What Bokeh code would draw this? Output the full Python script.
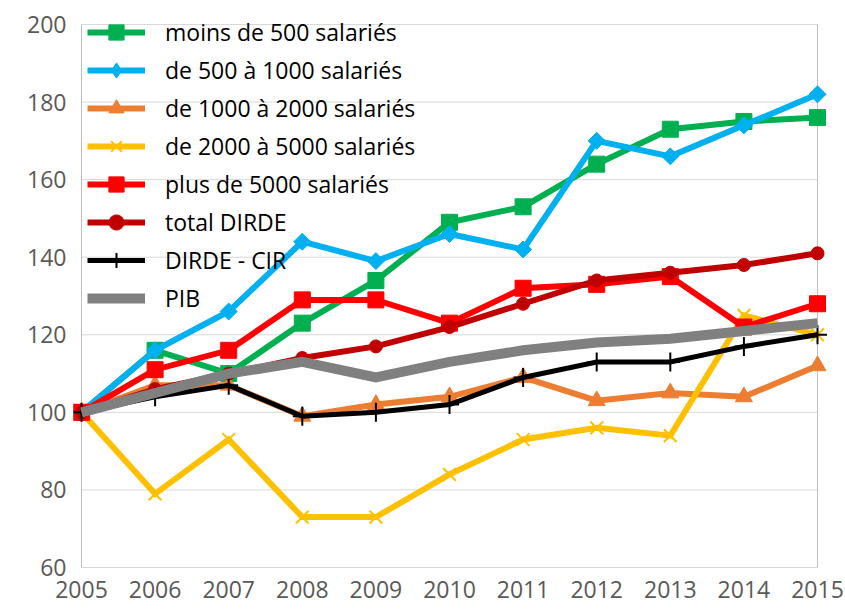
import math
from bokeh.plotting import figure
from bokeh.models import Range1d, Legend, LegendItem, FixedTicker
from bokeh.embed import file_html
from bokeh.resources import INLINE

years = [2005, 2006, 2007, 2008, 2009, 2010, 2011, 2012, 2013, 2014, 2015]
moins_500 = [100, 116, 110, 123, 134, 149, 153, 164, 173, 175, 176]
de_500_1000 = [100, 116, 126, 144, 139, 146, 142, 170, 166, 174, 182]
de_1000_2000 = [100, 107, 107, 99, 102, 104, 109, 103, 105, 104, 112]
de_2000_5000 = [100, 79, 93, 73, 73, 84, 93, 96, 94, 125, 120]
plus_5000 = [100, 111, 116, 129, 129, 123, 132, 133, 135, 122, 128]
total_dirde = [100, 106, 110, 114, 117, 122, 128, 134, 136, 138, 141]
dirde_cir = [100, 104, 107, 99, 100, 102, 109, 113, 113, 117, 120]
pib = [100, 105, 110, 113, 109, 113, 116, 118, 119, 121, 123]

y_ticks = [60, 80, 100, 120, 140, 160, 180, 200]

FONT = "Open Sans"
TXT = "#595959"

W, H = 845, 610
# canvas frame (a little larger than the Excel plot area so edge markers are not clipped)
F_LEFT, F_RIGHT, F_TOP, F_BOTTOM = 73, 828, 10, 567
# where the first/last year and the top tick must fall
PX_X0, PX_X1, PX_YTOP = 81, 817, 24

xs = (years[-1] - years[0]) / (PX_X1 - PX_X0)
x_start = years[0] - (PX_X0 - F_LEFT) * xs
x_end = years[-1] + (F_RIGHT - PX_X1) * xs
ys = (y_ticks[-1] - y_ticks[0]) / (F_BOTTOM - PX_YTOP)
y_start = y_ticks[0]
y_end = y_ticks[-1] + (PX_YTOP - F_TOP) * ys

p = figure(width=W, height=H, output_backend="svg", toolbar_location=None,
           x_range=Range1d(x_start, x_end), y_range=Range1d(y_start, y_end),
           min_border_left=F_LEFT, min_border_right=W - F_RIGHT,
           min_border_top=F_TOP, min_border_bottom=H - F_BOTTOM)
p.outline_line_color = None
p.background_fill_color = "white"
p.border_fill_color = "white"
p.xgrid.grid_line_color = None
p.ygrid.grid_line_color = None

p.xaxis.ticker = FixedTicker(ticks=years)
p.yaxis.ticker = FixedTicker(ticks=y_ticks)
for ax in (p.xaxis, p.yaxis):
    ax.axis_line_color = None
    ax.major_tick_line_color = None
    ax.minor_tick_line_color = None
    ax.major_label_text_font = FONT
    ax.major_label_text_font_size = "23px"
    ax.major_label_text_color = TXT
p.xaxis.major_label_standoff = 7
p.yaxis.major_label_standoff = 1

# horizontal gridlines limited to the plot area (2005..2015)
p.segment(x0=[years[0]] * len(y_ticks), y0=y_ticks, x1=[years[-1]] * len(y_ticks), y1=y_ticks,
          line_color="#d9d9d9", line_width=1)
# plot-area border: left axis, bottom axis, right edge
p.segment(x0=[years[0], years[0], years[-1]], y0=[y_ticks[0], y_ticks[0], y_ticks[0]],
          x1=[years[0], years[-1], years[-1]], y1=[y_ticks[-1], y_ticks[0], y_ticks[-1]],
          line_color="#bfbfbf", line_width=1)

series = [
    ("moins de 500 salariés", moins_500, "#00B050", 6, dict(marker="square", size=16), None),
    ("de 500 à 1000 salariés", de_500_1000, "#00B0F0", 6,
     dict(marker="square", size=12, angle=math.pi / 4), "diamond"),
    ("de 1000 à 2000 salariés", de_1000_2000, "#ED7D31", 6, dict(marker="triangle", size=17), None),
    ("de 2000 à 5000 salariés", de_2000_5000, "#FFC000", 6, dict(marker="x", size=18, line_width=2), None),
    ("plus de 5000 salariés", plus_5000, "#FF0000", 6, dict(marker="square", size=16), None),
    ("total DIRDE", total_dirde, "#C00000", 6, dict(marker="circle", size=13), None),
    ("DIRDE - CIR", dirde_cir, "#000000", 5, dict(marker="cross", size=19, line_width=2), None),
    ("PIB", pib, "#808080", 10, None, None),
]

items = []
for name, vals, color, lw, mk, legend_marker in series:
    rs = []
    rs.append(p.line(years, vals, line_color=color, line_width=lw, line_join="miter"))
    if mk is not None:
        kw = dict(mk)
        sr = p.scatter(years, vals, fill_color=color, line_color=color, **kw)
        if legend_marker is None:
            rs.append(sr)
        else:
            # zero-size copy: invisible in the plot, but gives the legend its diamond shape
            rs.append(p.scatter(years, vals, marker=legend_marker, size=0,
                                fill_color=color, line_color=color))
    items.append(LegendItem(label=name, renderers=rs))

legend = Legend(items=items, location=(87 - F_LEFT, 250))
legend.background_fill_alpha = 0
legend.border_line_alpha = 0
legend.padding = 0
legend.margin = 0
legend.spacing = 0
legend.glyph_width = 58
legend.glyph_height = 38
legend.label_height = 38
legend.label_standoff = 20
legend.label_text_font = FONT
legend.label_text_font_size = "23px"
legend.label_text_color = "#000000"
p.add_layout(legend, "center")

open("out.html", "w").write(file_html(p, INLINE))
